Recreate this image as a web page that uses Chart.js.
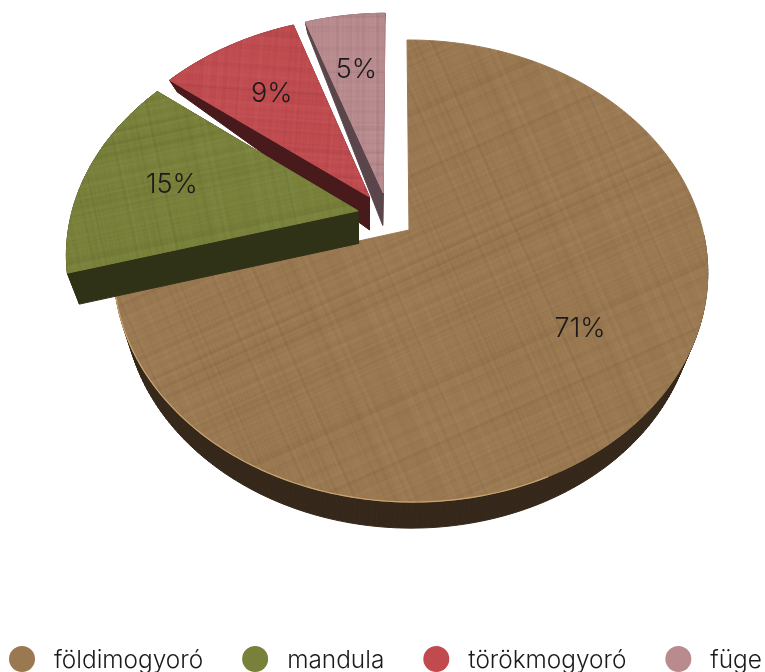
<!DOCTYPE html>
<html>
<head>
<meta charset="utf-8">
<style>
  html, body { margin: 0; padding: 0; background: #fff; overflow: hidden; }
  canvas { display: block; }
</style>
<script src="https://cdn.jsdelivr.net/npm/chart.js@4"></script>
</head>
<body>
<canvas id="chart" width="765" height="672"></canvas>
<script>
// chart data (labels round them)
const categories = ["földimogyoró", "mandula", "törökmogyoró", "füge"];
const shares = [70.6, 14.9, 9.2, 5.3];

// look of each slice
const topColors = ["#9a7850", "#788039", "#c04a4e", "#b98a8e"];
const sideColors = ["#35281a", "#2f3216", "#491a1b", "#5a464a"];
const weaveTurn = [-24, -12, 4, 0];
const pullOut = [[0, 0], [-0.177, -0.086], [-0.139, -0.151], [-0.091, -0.170]];
const labelReach = [0.675, 0.68, 0.66, 0.665];
const percentFont = '300 27px Inter, Roboto, "Liberation Sans", sans-serif';
const legendFont = '300 24.4px Inter, Roboto, "Liberation Sans", sans-serif';

// perspective used to lay the flat pie down
const apexX = 409, apexY = 230, stretchY = 182.9, tilt = -0.1775, sideTilt = -0.006, widthScale = 0.994;

function project(u, v, radius) {
  const w = 1 + tilt * v + sideTilt * u;
  return [apexX + radius * widthScale * u / w, (apexY + stretchY * v) / w];
}

function depthAt(v) {
  if (v < -0.75) return 12;
  if (v < -0.15) return 12 + (v + 0.75) * 35;
  return 33 - (v + 0.15) * 6;
}

function lower(u, v, radius) {
  const p = project(u, v, radius);
  return [p[0] + (370 - p[0]) * 0.04, p[1] + depthAt(v)];
}

// linen weave, drawn once and tiled over the slices
function makeWeaveTile() {
  const tile = document.createElement("canvas");
  tile.width = tile.height = 256;
  const t = tile.getContext("2d");
  let seed = 12345;
  const next = () => (seed = (seed * 1103515 + 12345) % 2147483648) / 2147483648;
  const shade = () => (next() > 0.55 ? "rgba(0,0,0," + next() * 0.04 + ")" : "rgba(255,255,255," + next() * 0.03 + ")");
  for (let i = 0; i < 256; i += 2) {
    t.fillStyle = shade();
    t.fillRect(0, i, 256, 1 + Math.floor(next() * 3));
    t.fillStyle = shade();
    t.fillRect(i, 0, 1 + Math.floor(next() * 3), 256);
  }
  return tile;
}

function outline(el, shift) {
  const pts = [[shift[0], shift[1]]];
  const steps = Math.ceil((el.endAngle - el.startAngle) * 60);
  for (let i = 0; i <= steps; i++) {
    const a = el.startAngle + (el.endAngle - el.startAngle) * i / steps;
    pts.push([shift[0] + Math.cos(a), shift[1] + Math.sin(a)]);
  }
  return pts;
}

function tracePath(ctx, pts) {
  ctx.beginPath();
  pts.forEach((p, i) => (i ? ctx.lineTo(p[0], p[1]) : ctx.moveTo(p[0], p[1])));
  ctx.closePath();
}

const tiltedPie = {
  id: "tiltedPie",
  beforeDatasetDraw(chart) {
    const ctx = chart.ctx;
    const tile = makeWeaveTile();
    const arcs = chart.getDatasetMeta(0).data;
    ctx.save();
    // back to front so nearer slices cover the others
    [0, 3, 2, 1].forEach((i) => {
      const el = arcs[i].getProps(["startAngle", "endAngle", "outerRadius"], true);
      const radius = el.outerRadius;
      const world = outline(el, pullOut[i]);
      const top = world.map((p) => project(p[0], p[1], radius));
      const bottom = world.map((p) => lower(p[0], p[1], radius));

      ctx.fillStyle = sideColors[i];
      ctx.strokeStyle = sideColors[i];
      ctx.lineWidth = 1;
      top.forEach((p, k) => {
        const n = (k + 1) % top.length;
        // the big slice only shows its front rim, not the cut faces
        if (i === 0 && (k === 0 || n === 0 || world[k][1] < 0)) return;
        tracePath(ctx, [p, top[n], bottom[n], bottom[k]]);
        ctx.fill();
        ctx.stroke();
      });

      tracePath(ctx, top);
      ctx.strokeStyle = topColors[i];
      ctx.lineWidth = 1;
      ctx.stroke();
      ctx.fillStyle = topColors[i];
      ctx.fill();
      const weave = ctx.createPattern(tile, "repeat");
      weave.setTransform(new DOMMatrix().rotate(weaveTurn[i]));
      ctx.fillStyle = weave;
      ctx.fill();

      // bright rim along the front of the big slice
      if (i === 0) {
        ctx.beginPath();
        top.slice(1).forEach((p, k) => {
          const q = world[k + 1];
          if (q[1] > 0.25 && q[0] < 0.4) ctx.lineTo(p[0], p[1]);
        });
        ctx.strokeStyle = "#c9a46f";
        ctx.lineWidth = 1.2;
        ctx.stroke();
      }

      // percent label on the slice
      const mid = (el.startAngle + el.endAngle) / 2;
      const reach = labelReach[i];
      const at = project(pullOut[i][0] + Math.cos(mid) * reach, pullOut[i][1] + Math.sin(mid) * reach, radius);
      ctx.font = percentFont;
      ctx.fillStyle = "#1a1a1a";
      ctx.textAlign = "center";
      ctx.textBaseline = "middle";
      ctx.fillText(Math.round(shares[i]) + "%", at[0], at[1] + 1);
    });
    ctx.restore();
    return false;
  }
};

const bottomLegend = {
  id: "bottomLegend",
  afterDraw(chart) {
    const ctx = chart.ctx;
    let x = 9;
    ctx.save();
    ctx.font = legendFont;
    ctx.textAlign = "left";
    ctx.textBaseline = "alphabetic";
    chart.data.labels.forEach((name, i) => {
      ctx.beginPath();
      ctx.arc(x + 13, 659, 13, 0, Math.PI * 2);
      ctx.fillStyle = topColors[i];
      ctx.fill();
      ctx.fillStyle = "#1a1a1a";
      ctx.fillText(name, x + 45, 668);
      x += 45 + ctx.measureText(name).width + 39;
    });
    ctx.restore();
  }
};

new Chart(document.getElementById("chart"), {
  type: "pie",
  data: {
    labels: categories,
    datasets: [{ data: shares, backgroundColor: topColors, borderWidth: 0 }]
  },
  options: {
    responsive: false,
    animation: false,
    rotation: -0.46,
    layout: { padding: { bottom: 84 } },
    plugins: { legend: { display: false }, tooltip: { enabled: false } }
  },
  plugins: [tiltedPie, bottomLegend]
});
</script>
</body>
</html>
